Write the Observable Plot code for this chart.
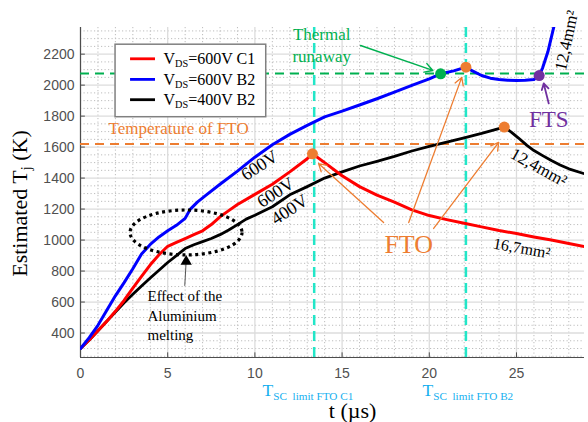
<!DOCTYPE html>
<html>
<head>
<meta charset="utf-8">
<script src="https://cdn.jsdelivr.net/npm/d3@7"></script>
<script src="https://cdn.jsdelivr.net/npm/@observablehq/plot@0.6"></script>
<style>
  html, body { margin: 0; padding: 0; background: #fff; }
  #chart svg { display: block; }
</style>
</head>
<body>
<div id="chart"></div>
<script>
// ---------------- data ----------------
const tRed = [0, 0.5, 1, 1.5, 2, 2.5, 3, 3.5, 4, 4.5, 5, 5.5, 6, 6.5, 7, 7.5, 8, 8.5, 9, 10, 11, 12, 13, 13.3, 14, 15, 16, 17, 18, 19, 20, 21, 22, 23, 24, 25, 26, 27, 28, 28.9];
const TRed = [300, 355, 415, 475, 540, 610, 690, 765, 840, 905, 960, 985, 1010, 1035, 1060, 1100, 1150, 1190, 1230, 1295, 1360, 1440, 1525, 1557, 1500, 1415, 1345, 1290, 1245, 1195, 1158, 1132, 1108, 1085, 1062, 1042, 1020, 1000, 978, 958];

const tBlue = [0, 0.5, 1, 1.5, 2, 2.5, 3, 3.5, 4, 4.5, 5, 5.5, 6, 6.3, 6.7, 7.2, 8, 9, 10, 11, 12, 13, 14, 15, 16, 17, 18, 19, 20, 20.65, 21.4, 22.1, 22.5, 23, 23.5, 24, 24.5, 25, 25.5, 26, 26.3, 26.5, 26.8, 27.15];
const TBlue = [300, 370, 450, 545, 640, 725, 815, 910, 972, 1020, 1060, 1095, 1140, 1200, 1245, 1290, 1360, 1445, 1535, 1615, 1682, 1740, 1795, 1832, 1872, 1912, 1955, 1998, 2040, 2073, 2092, 2116, 2090, 2062, 2045, 2036, 2032, 2030, 2031, 2036, 2062, 2112, 2215, 2380];

const tBlack = [0, 0.5, 1, 1.5, 2, 2.5, 3, 3.5, 4, 4.5, 5, 5.5, 6, 6.5, 7, 7.5, 8, 8.5, 9, 9.5, 10, 11, 12, 13, 14, 15, 16, 17, 18, 19, 20, 21, 22, 23, 24.3, 24.7, 25.1, 25.6, 26, 26.5, 27, 27.5, 28, 28.9];
const TBlack = [300, 355, 415, 475, 535, 595, 650, 703, 755, 805, 855, 900, 945, 970, 990, 1010, 1035, 1065, 1100, 1135, 1160, 1215, 1292, 1345, 1400, 1440, 1478, 1508, 1540, 1575, 1605, 1632, 1660, 1688, 1729, 1697, 1660, 1611, 1578, 1545, 1513, 1485, 1460, 1428];

const legendLabels = ["V_{DS}=600V C1", "V_{DS}=600V B2", "V_{DS}=400V B2"];
const seriesColors = ["#ff0000", "#0000ff", "#000000"];

const xTicks = [0, 5, 10, 15, 20, 25];
const yTicks = [400, 600, 800, 1000, 1200, 1400, 1600, 1800, 2000, 2200];
const xMinor = [1, 2, 3, 4, 6, 7, 8, 9, 11, 12, 13, 14, 16, 17, 18, 19, 21, 22, 23, 24, 26, 27, 28];
const yMinor = [250, 300, 350, 450, 500, 550, 650, 700, 750, 850, 900, 950, 1050, 1100, 1150, 1250, 1300, 1350, 1450, 1500, 1550, 1650, 1700, 1750, 1850, 1900, 1950, 2050, 2100, 2150, 2250, 2300, 2350];

const ftoTemp = 1620;
const runawayTemp = 2075;
const tscLimits = [13.4, 22.1];
const ftoPoints = [{t: 13.3, T: 1557}, {t: 22.1, T: 2116}, {t: 24.3, T: 1729}];
const runawayPoint = [{t: 20.65, T: 2073}];
const ftsPoint = [{t: 26.3, T: 2062}];

// ---------------- helpers ----------------
const serif = "Liberation Serif, Times New Roman, serif";
const toRows = (ts, Ts) => ts.map((t, i) => ({t, T: Ts[i]}));
const note = (txt, t, T, o) => Plot.text([txt], {x: () => t, y: () => T, text: d => d, fontFamily: serif, ...o});
const arrow = (t1, T1, t2, T2, o) => Plot.arrow([0], {x1: () => t1, y1: () => T1, x2: () => t2, y2: () => T2, ...o});

const orange = "#ED7D31", green = "#00B050", purple = "#7030A0", cyan = "#22E6C8", skyBlue = "#14AFEF";

const legendRows = legendLabels.map((label, i) => ({label, color: seriesColors[i], T: [2170, 2037, 1906][i]}));

const chart = Plot.plot({
  width: 588,
  height: 422,
  marginLeft: 80,
  marginRight: 4,
  marginTop: 27,
  marginBottom: 65,
  x: {domain: [0, 28.9]},
  y: {domain: [242, 2372]},
  style: {fontFamily: "Liberation Sans, Arial, sans-serif", fontSize: "14px", color: "#555", background: "#fff"},
  marks: [
    // minor grid
    Plot.ruleX(xMinor, {stroke: "#bdbdbd", strokeWidth: 1, strokeDasharray: "1.2 2.3"}),
    Plot.ruleY(yMinor, {stroke: "#bdbdbd", strokeWidth: 1, strokeDasharray: "1.2 2.3"}),
    // major grid
    Plot.ruleX(xTicks, {stroke: "#dcdcdc", strokeWidth: 1.3}),
    Plot.ruleY(yTicks, {stroke: "#dcdcdc", strokeWidth: 1.3}),
    // axes
    Plot.ruleX([0], {stroke: "#4d4d4d", strokeWidth: 1.2}),
    Plot.ruleY([242], {stroke: "#4d4d4d", strokeWidth: 1.2}),
    Plot.ruleX(xTicks, {y1: () => 242, y2: () => 272, stroke: "#4d4d4d"}),
    Plot.ruleY(yTicks, {x1: () => 0, x2: () => 0.28, stroke: "#4d4d4d"}),
    Plot.axisX({ticks: xTicks, tickSize: 0, tickPadding: 11, label: null, fill: "#505050", tickFormat: d => String(d)}),
    Plot.axisY({ticks: yTicks, tickSize: 0, tickPadding: 6, label: null, fill: "#505050", tickFormat: d => String(d)}),
    // reference lines
    Plot.ruleY([ftoTemp], {stroke: orange, strokeWidth: 2, strokeDasharray: "9 6"}),
    Plot.ruleY([runawayTemp], {stroke: green, strokeWidth: 2, strokeDasharray: "9 6"}),
    Plot.ruleX(tscLimits, {stroke: cyan, strokeWidth: 2.5, strokeDasharray: "10 6"}),
    // series
    Plot.line(toRows(tBlack, TBlack), {x: "t", y: "T", stroke: seriesColors[2], strokeWidth: 2.8, clip: true}),
    Plot.line(toRows(tRed, TRed), {x: "t", y: "T", stroke: seriesColors[0], strokeWidth: 3, clip: true}),
    Plot.line(toRows(tBlue, TBlue), {x: "t", y: "T", stroke: seriesColors[1], strokeWidth: 3, clip: true}),
    // markers
    Plot.dot(ftoPoints, {x: "t", y: "T", r: 5.5, fill: orange}),
    Plot.dot(runawayPoint, {x: "t", y: "T", r: 5.5, fill: green}),
    Plot.dot(ftsPoint, {x: "t", y: "T", r: 5.5, fill: purple}),
    // arrows
    arrow(16.06, 2256, 20.2, 2095, {stroke: green, strokeWidth: 1.5, headLength: 9}),
    arrow(26.85, 1882, 26.56, 2011, {stroke: purple, strokeWidth: 1.8, headLength: 9}),
    arrow(17.38, 1113, 13.65, 1494, {stroke: orange, strokeWidth: 1.3, headLength: 10}),
    arrow(18.82, 1113, 21.86, 2050, {stroke: orange, strokeWidth: 1.3, headLength: 10}),
    arrow(20.25, 1075, 23.98, 1630, {stroke: orange, strokeWidth: 1.3, headLength: 10}),
    arrow(5.98, 707, 6.05, 845, {stroke: "#555", strokeWidth: 1, headLength: 0}),
    Plot.dot([0], {x: () => 6.06, y: () => 862, symbol: "triangle", r: 4.2, fill: "#000"}),
    // annotations
    note("Temperature of FTO", 1.61, 1720, {fill: orange, fontSize: 17, textAnchor: "start"}),
    note("Thermal\nrunaway", 13.83, 2263, {fill: green, fontSize: 17, lineHeight: 1.3}),
    note("FTS", 26.85, 1778, {fill: purple, fontSize: 23}),
    note("FTO", 18.82, 971, {fill: orange, fontSize: 26}),
    note("600V", 10.27, 1481, {fill: "#000", fontSize: 18, rotate: -33}),
    note("600V", 11.19, 1307, {fill: "#000", fontSize: 18, rotate: -33}),
    note("400V", 11.99, 1197, {fill: "#000", fontSize: 18, rotate: -33}),
    note("12,4mm²", 26.28, 1469, {fill: "#000", fontSize: 17, rotate: 29}),
    note("16,7mm²", 25.3, 946, {fill: "#000", fontSize: 16, rotate: 10}),
    note("12,4mm²", 27.88, 2288, {fill: "#000", fontSize: 17, rotate: -78}),
    note("Effect of the\nAluminium\nmelting", 3.84, 520, {fill: "#000", fontSize: 15, lineHeight: 1.3, textAnchor: "start"}),
    note("T_{SC  limit FTO C1}", 10.44, 28, {fill: skyBlue, fontSize: 17.5, textAnchor: "start"}),
    note("T_{SC  limit FTO B2}", 19.61, 28, {fill: skyBlue, fontSize: 17.5, textAnchor: "start"}),
    note("t (µs)", 15.6, -100, {fill: "#000", fontSize: 22}),
    note("Estimated T_{j} (K)", -3.5, 1236, {fill: "#000", fontSize: 22, rotate: -90}),
    // legend
    Plot.rect([0], {x1: () => 2.01, x2: () => 10.65, y1: () => 1793, y2: () => 2261, fill: "#fff", stroke: "#808080", strokeWidth: 1.5}),
    Plot.ruleY(legendRows, {y: "T", x1: () => 2.87, x2: () => 4.3, stroke: "color", strokeWidth: 2.8}),
    Plot.text(legendRows, {x: () => 4.76, y: "T", text: "label", fill: "#000", fontSize: 16, fontFamily: serif, textAnchor: "start"})
  ]
});

// subscripts: "_{...}" -> lowered, smaller tspan
const ns = "http://www.w3.org/2000/svg";
chart.querySelectorAll("text").forEach(el => {
  if (el.querySelector("tspan")) return;
  const s = el.textContent;
  if (!s.includes("_{")) return;
  el.textContent = "";
  let lowered = false;
  for (const p of s.split(/(_\{[^}]*\})/)) {
    if (!p) continue;
    const ts = document.createElementNS(ns, "tspan");
    if (p.startsWith("_{")) {
      ts.textContent = p.slice(2, -1);
      ts.setAttribute("font-size", "0.64em");
      ts.setAttribute("dy", "0.3em");
      ts.setAttribute("xml:space", "preserve");
      lowered = true;
    } else {
      ts.textContent = p;
      if (lowered) { ts.setAttribute("dy", "-0.192em"); lowered = false; }
    }
    el.appendChild(ts);
  }
});

// dotted ellipse around the aluminium-melting zone
const ell = {t: 6.08, T: 1046, dt: 3.21, dT: 145};
const xs = chart.scale("x"), ys = chart.scale("y");
const cx = xs.apply(ell.t), cy = ys.apply(ell.T);
d3.select(chart).append("ellipse")
  .attr("cx", cx).attr("cy", cy)
  .attr("rx", xs.apply(ell.t + ell.dt) - cx)
  .attr("ry", cy - ys.apply(ell.T + ell.dT))
  .attr("fill", "none").attr("stroke", "#000").attr("stroke-width", 3.2)
  .attr("stroke-dasharray", "3 3.5");

document.getElementById("chart").appendChild(chart);
</script>
</body>
</html>
